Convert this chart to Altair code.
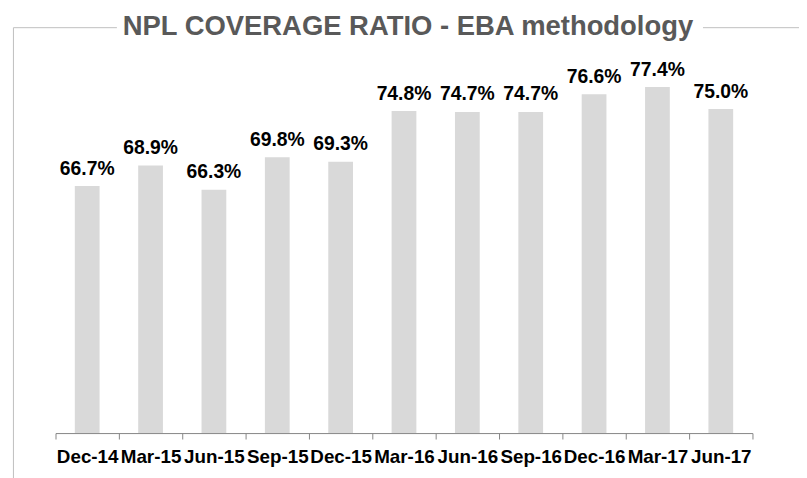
import altair as alt
import pandas as pd

categories = ["Dec-14", "Mar-15", "Jun-15", "Sep-15", "Dec-15", "Mar-16",
              "Jun-16", "Sep-16", "Dec-16", "Mar-17", "Jun-17"]
values = [66.7, 68.9, 66.3, 69.8, 69.3, 74.8, 74.7, 74.7, 76.6, 77.4, 75.0]
title_text = "NPL COVERAGE RATIO - EBA methodology"

FONT = "Liberation Sans"
df = pd.DataFrame({"period": categories, "value": values})

xenc = alt.X("period:N", sort=categories,
             scale=alt.Scale(paddingInner=0, paddingOuter=0),
             axis=alt.Axis(title=None, labelAngle=0, labelFont=FONT, labelFontSize=19,
                           labelFontWeight="bold", labelColor="black",
                           tickBand="extent", tickSize=6, tickColor="#868686",
                           domainColor="#868686", labelPadding=9,
                           labelOverlap=False, labelFlush=False))
yscale = alt.Scale(domain=[40, 80], zero=False, nice=False)

base = alt.Chart(df)
bars = base.mark_bar(size=25, color="#d9d9d9").encode(
    x=xenc,
    y=alt.Y("value:Q", scale=yscale, axis=None),
    y2=alt.datum(40),
)
labels = base.transform_calculate(
    lab="format(datum.value, '.1f') + '%'"
).mark_text(font=FONT, fontSize=19.5, fontWeight="bold", color="black",
            baseline="alphabetic", dy=-11.5).encode(
    x=alt.X("period:N", sort=categories),
    y=alt.Y("value:Q", scale=yscale),
    text="lab:N",
)

one = alt.Chart(pd.DataFrame({"t": [title_text]}))
title = one.mark_text(font=FONT, fontSize=27.7, fontWeight="bold", color="#595959",
                      baseline="alphabetic", align="center").encode(
    text="t:N", x=alt.value(356), y=alt.value(-28.5))
line_left = one.mark_rule(color="#bfbfbf", strokeWidth=1).encode(
    x=alt.value(-42.5), x2=alt.value(62), y=alt.value(-35.5))
line_right = one.mark_rule(color="#bfbfbf", strokeWidth=1).encode(
    x=alt.value(654), x2=alt.value(760), y=alt.value(-35.5))
line_vert = one.mark_rule(color="#bfbfbf", strokeWidth=1).encode(
    x=alt.value(-42.5), y=alt.value(-35.5), y2=alt.value(420))

chart = alt.layer(bars, labels, title, line_left, line_right, line_vert).properties(
    width=704, height=374,
    autosize=alt.AutoSizeParams(type="none"),
    padding={"left": 48, "top": 53, "right": 47, "bottom": 43},
).configure_view(stroke=None)

chart.save("out.html", embed_options={"renderer": "svg", "actions": False})
